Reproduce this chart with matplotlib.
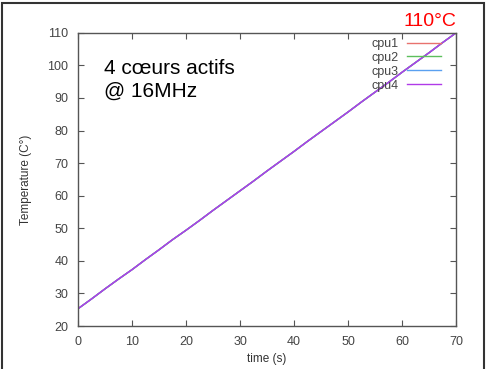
import matplotlib
matplotlib.use("Agg")
import matplotlib.pyplot as plt
from matplotlib.patches import Rectangle

plt.rcParams["font.family"] = ["Liberation Sans", "DejaVu Sans"]

# Temperature readings (all four cores track the same curve)
time_s = [0, 2.5, 5, 7.5, 10, 12.5, 15, 17.5, 20, 22.5, 25, 27.5, 30, 32.5, 35,
          37.5, 40, 42.5, 45, 47.5, 50, 52.5, 55, 57.5, 60, 62.5, 65, 67.5, 70]
cpu4 = [25.3, 28.3, 31.4, 34.4, 37.3, 40.4, 43.4, 46.5, 49.4, 52.4, 55.5, 58.5,
        61.5, 64.5, 67.6, 70.6, 73.6, 76.7, 79.7, 82.7, 85.7, 88.8, 91.8, 94.8,
        97.9, 100.9, 103.9, 107.0, 110.0]
cpu1 = list(cpu4)
cpu2 = list(cpu4)
cpu3 = list(cpu4)

series = ["cpu1", "cpu2", "cpu3", "cpu4"]
colors = ["#e8726e", "#5cbf5c", "#5aa0f0", "#b03ae8"]
xticks = [0, 10, 20, 30, 40, 50, 60, 70]
yticks = [20, 30, 40, 50, 60, 70, 80, 90, 100, 110]

fig = plt.figure(figsize=(4.92, 3.69), dpi=100)
ax = fig.add_axes([0.1585, 0.1165, 0.7685, 0.7945])

for name, vals, c in zip(series, [cpu1, cpu2, cpu3, cpu4], colors):
    ax.plot(time_s, vals, color=c, lw=1.0, label=name)

ax.set_xlim(0, 70)
ax.set_ylim(20, 110)
ax.set_xticks(xticks)
ax.set_yticks(yticks)
ax.tick_params(direction="in", top=True, right=True, length=4, width=0.8,
               labelsize=9, colors="#555555", labelcolor="#444444", pad=7)
for s in ax.spines.values():
    s.set_color("#555555")
    s.set_linewidth(1.0)

ax.set_xlabel("time (s)", fontsize=8.5, color="#333333", labelpad=4)
ax.set_ylabel("Temperature (C°)", fontsize=8.5, color="#333333", labelpad=11)

leg = ax.legend(loc="upper right", bbox_to_anchor=(0.98, 1.008), frameon=False,
                markerfirst=False, fontsize=9, handlelength=2.7,
                labelspacing=0.15, handletextpad=0.7, borderaxespad=0.2)
for t in leg.get_texts():
    t.set_color("#444444")

ax.text(0.07, 0.91, "4 cœurs actifs\n@ 16MHz", transform=ax.transAxes,
        fontsize=15, va="top", ha="left", linespacing=1.25)
ax.text(1.0, 1.01, "110°C", transform=ax.transAxes, fontsize=14,
        color="#ff0000", ha="right", va="bottom")

fig.patches.append(Rectangle((0.005, -0.02), 0.978, 1.012, transform=fig.transFigure,
                             fill=False, edgecolor="#333333", lw=1.5))

fig.savefig("out.png", dpi=100)
